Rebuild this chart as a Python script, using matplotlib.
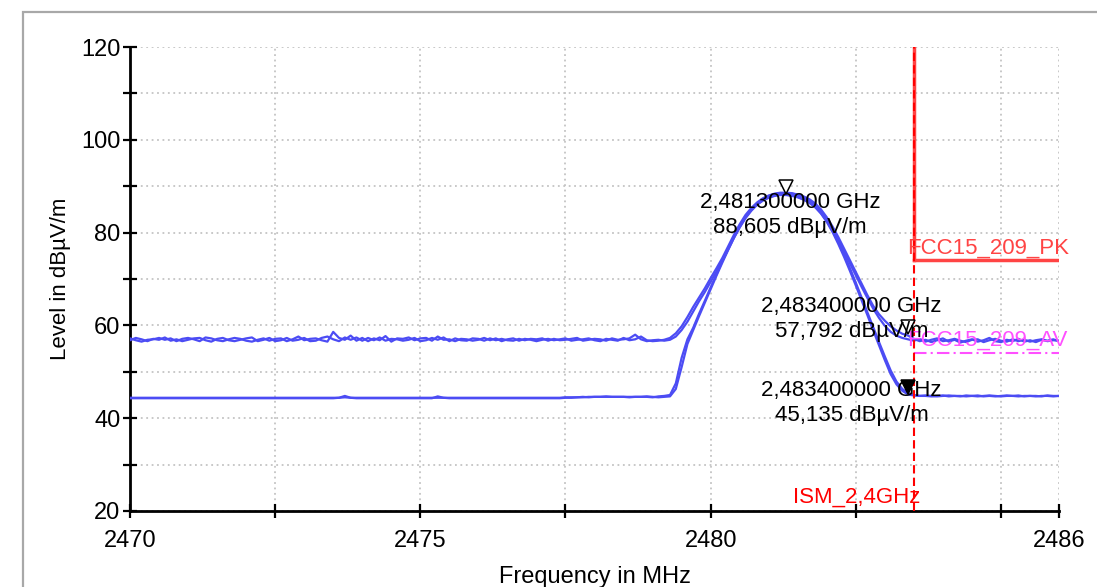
import matplotlib
matplotlib.use('Agg')
import matplotlib.pyplot as plt
import numpy as np
from matplotlib.patches import Rectangle

plt.rcParams['font.family'] = ['Liberation Sans', 'DejaVu Sans']

# frequency grid, 0.1 MHz steps 2470.0 ... 2486.0
freq = np.round(np.linspace(2470.0, 2486.0, 161), 1)

# peak traces (dBµV/m)
pk_a = [57.2, 56.8, 56.5, 56.9, 57.0, 57.3, 56.9, 57.2, 56.6, 57.1,
        57.3, 57.0, 56.6, 57.4, 57.2, 56.8, 56.6, 57.0, 57.3, 57.1,
        56.7, 56.5, 56.9, 57.2, 56.7, 57.1, 57.2, 56.6, 57.0, 57.6,
        56.8, 57.1, 57.2, 56.8, 56.5, 58.6, 57.3, 56.9, 57.8, 56.7,
        57.3, 56.6, 57.2, 56.8, 57.7, 56.5, 57.2, 57.1, 57.4, 56.8,
        57.2, 57.3, 56.7, 57.6, 56.9, 57.0, 56.6, 57.1, 57.0, 56.7,
        56.9, 57.3, 56.8, 57.2, 56.6, 57.0, 57.2, 56.7, 57.1, 56.9,
        56.6, 56.9, 57.1, 56.8, 57.0, 57.2, 56.7, 56.9, 57.0, 57.2,
        56.8, 56.6, 57.1, 56.9, 56.7, 57.3, 56.8, 57.0, 57.6, 56.8,
        56.6, 56.7, 56.9, 57.3, 58.3,
        59.8, 61.8, 64.0, 66.0, 68.0,
        70.2, 72.3, 74.5, 77.0, 79.5, 81.8, 83.8, 85.3, 86.5, 87.4,
        88.0, 88.4, 88.6, 88.6, 88.5, 88.2, 87.8, 87.2, 86.3, 85.0,
        83.3, 81.3, 79.0, 76.5, 74.0, 71.5, 69.0, 66.5, 64.2, 62.4,
        61.0, 59.8, 58.9, 58.2, 57.8,
        57.1, 56.6, 56.9, 56.4, 56.8, 57.2, 56.5, 56.9, 56.3, 56.7,
        57.0, 56.5, 56.8, 57.3, 56.6, 56.4, 56.9, 56.6, 57.1, 56.5,
        56.8, 56.4, 56.9, 56.7, 57.0, 56.6]
pk_b = [56.8, 57.3, 57.0, 56.6, 57.1, 56.9, 57.4, 56.7, 57.0, 56.6,
        56.9, 57.2, 57.3, 56.8, 56.5, 57.1, 57.3, 56.8, 56.6, 56.9,
        57.2, 57.4, 56.6, 56.9, 57.3, 56.6, 56.8, 57.3, 56.7, 56.9,
        57.3, 56.6, 56.7, 57.3, 57.6, 57.0, 56.6, 57.4, 56.9, 57.4,
        56.7, 57.3, 56.8, 57.4, 56.7, 57.1, 57.0, 56.7, 56.9, 57.3,
        56.6, 56.8, 57.3, 56.9, 57.4, 56.6, 57.2, 56.8, 56.7, 57.2,
        57.1, 56.7, 57.2, 56.8, 57.1, 56.8, 56.7, 57.1, 56.8, 57.1,
        57.0, 57.2, 56.7, 57.1, 56.8, 56.9, 57.1, 57.3, 56.7, 56.9,
        57.1, 57.0, 56.7, 57.2, 56.9, 57.0, 57.2, 58.0, 57.0, 56.6,
        56.8, 56.9, 56.7, 56.9, 57.6,
        59.0, 60.8, 63.0, 65.2, 67.2,
        69.4, 71.6, 73.9, 76.4, 78.9, 81.2, 83.3, 84.9, 86.2, 87.2,
        87.9, 88.3, 88.5, 88.5, 88.4, 88.1, 87.6, 86.9, 85.9, 84.5,
        82.7, 80.6, 78.3, 75.8, 73.3, 70.8, 68.3, 65.9, 63.6, 61.6,
        59.9, 58.6, 57.8, 57.3, 57.0,
        56.7, 57.1, 56.5, 56.9, 57.2, 56.6, 56.8, 57.1, 56.7, 56.4,
        56.9, 57.0, 56.4, 56.8, 57.1, 56.7, 56.5, 57.0, 56.6, 56.9,
        56.5, 56.8, 57.0, 56.6, 56.8, 56.7]

# average traces (dBµV/m)
av_a = [44.3, 44.3, 44.3, 44.3, 44.3, 44.3, 44.3, 44.3, 44.3, 44.3,
        44.3, 44.3, 44.3, 44.3, 44.3, 44.3, 44.3, 44.3, 44.3, 44.3,
        44.3, 44.3, 44.3, 44.3, 44.3, 44.3, 44.3, 44.3, 44.3, 44.3,
        44.3, 44.3, 44.3, 44.3, 44.3, 44.3, 44.4, 44.8, 44.4, 44.3,
        44.3, 44.3, 44.3, 44.3, 44.3, 44.3, 44.3, 44.3, 44.3, 44.3,
        44.3, 44.3, 44.3, 44.7, 44.4, 44.3, 44.3, 44.3, 44.3, 44.3,
        44.3, 44.3, 44.3, 44.3, 44.3, 44.3, 44.3, 44.3, 44.3, 44.3,
        44.3, 44.3, 44.3, 44.3, 44.3, 44.4, 44.4, 44.5, 44.5, 44.6,
        44.6, 44.6, 44.6, 44.6, 44.6, 44.6, 44.6, 44.6, 44.6, 44.6,
        44.5, 44.7, 44.8, 45.0, 47.5,
        53.0, 57.0, 59.5, 62.5, 65.3,
        68.2, 71.0, 73.8, 76.4, 79.0, 81.3, 83.3, 84.9, 86.1, 87.0,
        87.6, 88.0, 88.2, 88.2, 88.0, 87.7, 87.2, 86.5, 85.5, 84.1,
        82.3, 80.1, 77.5, 74.7, 71.7, 68.6, 65.4, 62.2, 58.9, 55.7,
        52.5, 49.5, 47.3, 45.9, 45.1,
        44.9, 44.8, 44.8, 44.7, 44.8, 44.9, 44.7, 44.8, 44.8, 44.7,
        44.8, 44.9, 44.7, 44.8, 44.7, 44.8, 44.9, 44.8, 44.7, 44.8,
        44.8, 44.7, 44.8, 44.8, 44.7, 44.8]
av_b = [44.4, 44.4, 44.4, 44.4, 44.4, 44.4, 44.4, 44.4, 44.4, 44.4,
        44.4, 44.4, 44.4, 44.4, 44.4, 44.4, 44.4, 44.4, 44.4, 44.4,
        44.4, 44.4, 44.4, 44.4, 44.4, 44.4, 44.4, 44.4, 44.4, 44.4,
        44.4, 44.4, 44.4, 44.4, 44.4, 44.4, 44.4, 44.5, 44.4, 44.4,
        44.4, 44.4, 44.4, 44.4, 44.4, 44.4, 44.4, 44.4, 44.4, 44.4,
        44.4, 44.4, 44.4, 44.4, 44.4, 44.4, 44.4, 44.4, 44.4, 44.4,
        44.4, 44.4, 44.4, 44.4, 44.4, 44.4, 44.4, 44.4, 44.4, 44.4,
        44.4, 44.4, 44.4, 44.4, 44.4, 44.5, 44.5, 44.5, 44.6, 44.5,
        44.6, 44.6, 44.7, 44.6, 44.6, 44.6, 44.5, 44.6, 44.6, 44.7,
        44.6, 44.5, 44.6, 44.7, 46.3,
        51.0, 56.0, 59.0, 62.0, 64.9,
        67.8, 70.7, 73.5, 76.2, 78.8, 81.1, 83.1, 84.7, 86.0, 86.9,
        87.5, 87.9, 88.1, 88.1, 87.9, 87.6, 87.1, 86.4, 85.5, 84.2,
        82.5, 80.4, 77.9, 75.2, 72.3, 69.2, 66.0, 62.8, 59.6, 56.4,
        53.3, 50.3, 47.9, 46.3, 45.4,
        45.0, 44.8, 44.9, 44.8, 44.7, 44.8, 44.9, 44.8, 44.7, 44.9,
        44.8, 44.7, 44.8, 44.9, 44.8, 44.7, 44.8, 44.8, 44.9, 44.7,
        44.8, 44.8, 44.7, 44.9, 44.8, 44.8]

# limits and markers
band_edge = 2483.5
pk_limit = 74.0
av_limit = 54.0
mk_freq = [2481.3, 2483.4, 2483.4]
mk_level = [88.605, 57.792, 45.135]
mk_text = ['2,481300000 GHz\n88,605 dBµV/m',
           '2,483400000 GHz\n57,792 dBµV/m',
           '2,483400000 GHz\n45,135 dBµV/m']

x_major = [2470, 2475, 2480, 2486]
x_minor = [2472.5, 2477.5, 2482.5, 2485]

fig = plt.figure(figsize=(10.97, 5.87), dpi=100)
ax = fig.add_axes([0.1185, 0.1295, 0.8469, 0.7904])

# grey frame of the report panel
fig.patches.append(Rectangle((23 / 1097, -0.02), 1.1, 1 - 12 / 587 + 0.02, transform=fig.transFigure,
                             fill=False, edgecolor='#a8a8a8', lw=1.6, zorder=0))

blue = '#4c4cf4'
for tr in (pk_a, pk_b, av_a, av_b):
    ax.plot(freq, tr, color=blue, lw=1.6, zorder=3)

# limit lines
ax.plot([band_edge, 2486], [av_limit, av_limit], color='#ff50ff', lw=1.5, ls=(0, (6, 2, 1, 2)), zorder=4)
ax.plot([band_edge, 2486], [pk_limit, pk_limit], color='#ff4444', lw=2.5, zorder=4)
ax.plot([band_edge, band_edge], [pk_limit, 120], color='#ff4444', lw=2.5, zorder=4)
ax.axvline(band_edge, color='#ff0000', lw=1.5, ls=(0, (4, 2)), zorder=4)

ax.text(2483.38, 76.7, 'FCC15_209_PK', color='#ff4444', fontsize=16, va='center', ha='left', zorder=5)
ax.text(2483.38, 56.9, 'FCC15_209_AV', color='#ff50ff', fontsize=16, va='center', ha='left', zorder=5)
ax.text(2482.52, 23.0, 'ISM_2,4GHz', color='#ff0000', fontsize=16, va='center', ha='center', zorder=5)

# markers
ax.plot(mk_freq[0], 89.8, marker='v', ms=10, mfc='white', mec='black', mew=1.1, zorder=6)
ax.plot(mk_freq[1], 59.7, marker='v', ms=10, mfc='white', mec='black', mew=1.1, zorder=6)
ax.plot(mk_freq[2], 46.7, marker='v', ms=10, mfc='black', mec='black', mew=1.1, zorder=6)
ax.text(2481.37, 83.9, mk_text[0], fontsize=16, ha='center', va='center', linespacing=1.25, zorder=7)
ax.text(2482.43, 61.4, mk_text[1], fontsize=16, ha='center', va='center', linespacing=1.25, zorder=7)
ax.text(2482.43, 43.3, mk_text[2], fontsize=16, ha='center', va='center', linespacing=1.25, zorder=7)

ax.set_xlim(2470, 2486)
ax.set_ylim(20, 120)
ax.set_xticks(x_major)
ax.set_xticks(x_minor, minor=True)
ax.set_yticks(np.arange(20, 121, 20))
ax.set_yticks(np.arange(30, 120, 20), minor=True)
ax.grid(True, which='both', color='#c4c4c4', ls=(0, (1, 2)), lw=1.3)

for s in ['top', 'right']:
    ax.spines[s].set_visible(False)
for s in ['left', 'bottom']:
    ax.spines[s].set_linewidth(2)
ax.tick_params(which='both', direction='inout', length=10, width=1.6)
ax.tick_params(axis='x', which='major', pad=9, labelsize=17)
ax.tick_params(axis='y', which='major', pad=2, labelsize=17)

ax.set_xlabel('Frequency in MHz', fontsize=17, labelpad=10)
ax.set_ylabel('Level in dBµV/m', fontsize=16, labelpad=7)

fig.savefig('out.png', dpi=100)
